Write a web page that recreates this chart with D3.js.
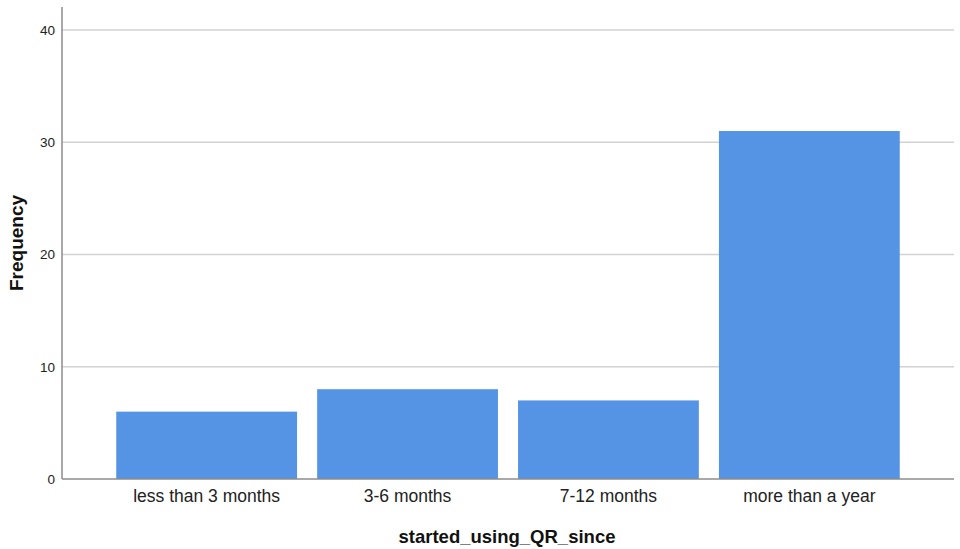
<!DOCTYPE html>
<html>
<head>
<meta charset="utf-8">
<script src="https://cdn.jsdelivr.net/npm/d3@7"></script>
<style>
  html, body { margin: 0; padding: 0; background: #fff; }
  svg { display: block; font-family: "Liberation Sans", Arial, sans-serif; }
</style>
</head>
<body>
<div id="chart"></div>
<script>
const categories = ['less than 3 months', '3-6 months', '7-12 months', 'more than a year'];
const frequencies = [6, 8, 7, 31];
const yTicks = [0, 10, 20, 30, 40];

const width = 960, height = 549;
const margin = { left: 62, right: 6, top: 7, bottom: 70 };
const plotBottom = 479, plotTop = 7;

const svg = d3.select('#chart').append('svg')
  .attr('width', width)
  .attr('height', height);

const x = d3.scaleBand()
  .domain(categories)
  .range([margin.left, 954])
  .paddingInner(0.1)
  .paddingOuter(0.27);

// 40 sits at y=30, 0 at y=479
const y = d3.scaleLinear()
  .domain([0, 40])
  .range([plotBottom, 30]);

// Gridlines
svg.append('g')
  .selectAll('line')
  .data(yTicks.filter(d => d > 0))
  .join('line')
  .attr('x1', margin.left)
  .attr('x2', 954)
  .attr('y1', d => y(d))
  .attr('y2', d => y(d))
  .attr('stroke', '#d2d2d2')
  .attr('stroke-width', 1.5);

// Bars
svg.append('g')
  .selectAll('rect')
  .data(frequencies)
  .join('rect')
  .attr('x', (d, i) => x(categories[i]))
  .attr('y', d => y(d))
  .attr('width', x.bandwidth())
  .attr('height', d => y(0) - y(d))
  .attr('fill', '#5594e5');

// Y axis
const yAxis = svg.append('g')
  .attr('transform', `translate(${margin.left},0)`)
  .call(d3.axisLeft(y).tickValues(yTicks).tickSize(0).tickPadding(7));
yAxis.select('.domain').remove();
yAxis.selectAll('text')
  .style('font-size', '13.5px')
  .attr('fill', '#222');

svg.append('line')
  .attr('x1', margin.left).attr('x2', margin.left)
  .attr('y1', plotTop).attr('y2', plotBottom)
  .attr('stroke', '#8c8c8c')
  .attr('stroke-width', 1.5);

// X axis
const xAxis = svg.append('g')
  .attr('transform', `translate(0,${plotBottom})`)
  .call(d3.axisBottom(x).tickSize(0).tickPadding(11));
xAxis.select('.domain').remove();
xAxis.selectAll('text')
  .style('font-size', '17.5px')
  .attr('fill', '#222');

svg.append('line')
  .attr('x1', margin.left).attr('x2', 954)
  .attr('y1', plotBottom).attr('y2', plotBottom)
  .attr('stroke', '#8c8c8c')
  .attr('stroke-width', 1.5);

// Axis titles
svg.append('text')
  .attr('x', 507)
  .attr('y', 543)
  .attr('text-anchor', 'middle')
  .style('font-size', '18.5px')
  .style('font-weight', 'bold')
  .attr('fill', '#111')
  .text('started_using_QR_since');

svg.append('text')
  .attr('transform', 'translate(23,243) rotate(-90)')
  .attr('text-anchor', 'middle')
  .style('font-size', '19px')
  .style('font-weight', 'bold')
  .attr('fill', '#111')
  .text('Frequency');
</script>
</body>
</html>
